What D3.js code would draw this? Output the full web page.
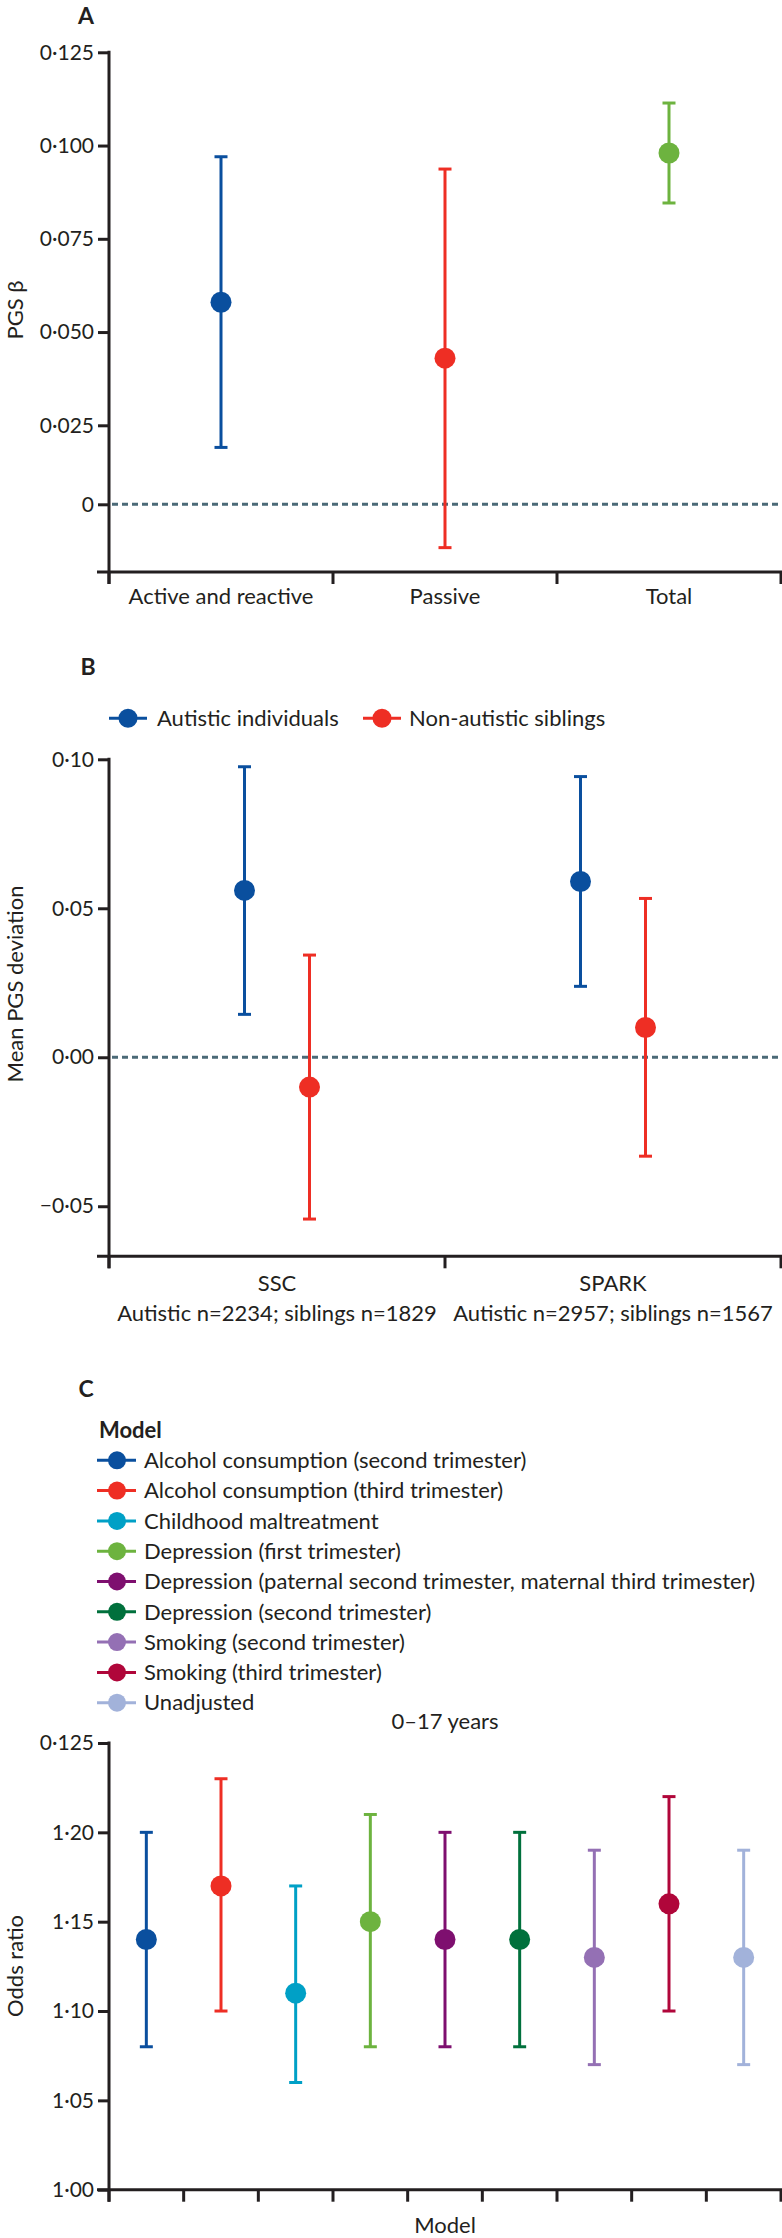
<!DOCTYPE html>
<html>
<head>
<meta charset="utf-8">
<script src="https://cdn.jsdelivr.net/npm/d3@7"></script>
<style>
  body { margin: 0; background: #fff; }
  svg { display: block; background: #fff; }
  text { font-family: Lato, "Noto Sans", sans-serif; fill: #231f20; }
</style>
</head>
<body>
<svg id="chart" width="782" height="2238"></svg>
<script>
// ---------------- DATA ----------------
// Panel A
const panelACategories = ["Active and reactive", "Passive", "Total"];
const panelAEstimate = [0.058, 0.043, 0.098];
const panelALower = [0.018, -0.0137, 0.0846];
const panelAUpper = [0.097, 0.0937, 0.1114];
const panelATicks = [0, 0.025, 0.05, 0.075, 0.1, 0.125];
const panelATickLabels = ["0", "0·025", "0·050", "0·075", "0·100", "0·125"];

// Panel B
const panelBCohorts = ["SSC", "SPARK"];
const panelBSampleSizes = ["Autistic n=2234; siblings n=1829", "Autistic n=2957; siblings n=1567"];
const panelBGroups = ["Autistic individuals", "Non-autistic siblings"];
const autisticMean = [0.056, 0.059];
const autisticLower = [0.0144, 0.0238];
const autisticUpper = [0.0975, 0.0942];
const siblingMean = [-0.010, 0.010];
const siblingLower = [-0.0543, -0.0332];
const siblingUpper = [0.0343, 0.0533];
const panelBTicks = [-0.05, 0, 0.05, 0.10];
const panelBTickLabels = ["−0·05", "0·00", "0·05", "0·10"];

// Panel C
const panelCModels = [
  "Alcohol consumption (second trimester)",
  "Alcohol consumption (third trimester)",
  "Childhood maltreatment",
  "Depression (first trimester)",
  "Depression (paternal second trimester, maternal third trimester)",
  "Depression (second trimester)",
  "Smoking (second trimester)",
  "Smoking (third trimester)",
  "Unadjusted"
];
const panelCOddsRatio = [1.14, 1.17, 1.11, 1.15, 1.14, 1.14, 1.13, 1.16, 1.13];
const panelCLower = [1.08, 1.10, 1.06, 1.08, 1.08, 1.08, 1.07, 1.10, 1.07];
const panelCUpper = [1.20, 1.23, 1.17, 1.21, 1.20, 1.20, 1.19, 1.22, 1.19];
const panelCTicks = [1.00, 1.05, 1.10, 1.15, 1.20, 1.25];
const panelCTickLabels = ["1·00", "1·05", "1·10", "1·15", "1·20", "0·125"];

// ---------------- STYLE ----------------
const AX = "#231f20";
const ZERO = "#4b6a77";
const colA = ["#0a4f9e", "#ee2e24", "#6db33f"];
const colB = ["#0a4f9e", "#ee2e24"];
const colC = ["#0a4f9e", "#ee2e24", "#00a0c6", "#6db33f", "#7e0f6f", "#00703c", "#9470b4", "#b0063a", "#a2b2da"];

const X0 = 109, X1 = 781;
const svg = d3.select("#chart");

function yAxis(y, ticks, labels, yBottom) {
  const g = svg.append("g").attr("transform", `translate(${X0},0)`)
    .call(d3.axisLeft(y).tickValues(ticks).tickFormat((d, i) => labels[i])
      .tickSize(11).tickSizeOuter(0).tickPadding(4));
  g.select(".domain").remove();
  g.selectAll(".tick line").attr("stroke", AX).attr("stroke-width", 3);
  g.selectAll(".tick text").attr("font-size", 21);
  const yTop = y(d3.max(ticks));
  svg.append("line").attr("x1", X0).attr("x2", X0)
    .attr("y1", yTop - 1.5).attr("y2", yBottom + 12)
    .attr("stroke", AX).attr("stroke-width", 3);
}

function xAxis(x, yBottom) {
  svg.append("line").attr("x1", X0 - 12).attr("x2", X1 + 1.5)
    .attr("y1", yBottom).attr("y2", yBottom)
    .attr("stroke", AX).attr("stroke-width", 3);
  const bounds = x.domain().map(d => x(d)).concat([x.range()[1]]);
  svg.append("g").selectAll("line").data(bounds).join("line")
    .attr("x1", d => Math.min(d, X1)).attr("x2", d => Math.min(d, X1))
    .attr("y1", yBottom).attr("y2", yBottom + 12)
    .attr("stroke", AX).attr("stroke-width", 3);
}

function zeroLine(y) {
  svg.append("line").attr("x1", X0 + 3).attr("x2", X1)
    .attr("y1", y(0)).attr("y2", y(0))
    .attr("stroke", ZERO).attr("stroke-width", 3)
    .attr("stroke-dasharray", "6,4");
}

function errorBar(g, cx, yLo, yHi, yEst, color) {
  g.append("line").attr("x1", cx).attr("x2", cx).attr("y1", yLo).attr("y2", yHi)
    .attr("stroke", color).attr("stroke-width", 3);
  [yLo, yHi].forEach(v => g.append("line").attr("x1", cx - 6.5).attr("x2", cx + 6.5)
    .attr("y1", v).attr("y2", v).attr("stroke", color).attr("stroke-width", 3));
  g.append("circle").attr("cx", cx).attr("cy", yEst).attr("r", 10.5).attr("fill", color);
}

function panelLabel(txt, x, y) {
  svg.append("text").attr("x", x).attr("y", y).attr("text-anchor", "middle")
    .attr("font-size", 23).attr("font-weight", "bold").text(txt);
}

function yTitle(txt, cy) {
  svg.append("text").attr("transform", `translate(14,${cy}) rotate(-90)`)
    .attr("text-anchor", "middle").attr("dominant-baseline", "central")
    .attr("font-size", 22).text(txt);
}

// ---------------- PANEL A ----------------
panelLabel("A", 86, 24);
const yA = d3.scaleLinear().domain([-0.0214, 0, 0.025, 0.125]).range([572, 504.3, 425.3, 52.3]);
const xA = d3.scaleBand().domain(panelACategories).range([X0, X1]);
zeroLine(yA);
yAxis(yA, panelATicks, panelATickLabels, 572);
xAxis(xA, 572);
yTitle("PGS β", 310);
const gA = svg.append("g");
panelACategories.forEach((c, i) => {
  errorBar(gA, xA(c) + xA.bandwidth() / 2, yA(panelALower[i]), yA(panelAUpper[i]), yA(panelAEstimate[i]), colA[i]);
});
svg.append("g").selectAll("text").data(panelACategories).join("text")
  .attr("x", d => xA(d) + xA.bandwidth() / 2).attr("y", 604)
  .attr("text-anchor", "middle").attr("font-size", 22).text(d => d);

// ---------------- PANEL B ----------------
panelLabel("B", 88, 675);
const legB = [{x: 109, t: 157}, {x: 363, t: 409}];
panelBGroups.forEach((gname, i) => {
  const lx = legB[i].x, ly = 718.3;
  svg.append("line").attr("x1", lx).attr("x2", lx + 38).attr("y1", ly).attr("y2", ly)
    .attr("stroke", colB[i]).attr("stroke-width", 3);
  svg.append("circle").attr("cx", lx + 19).attr("cy", ly).attr("r", 9.5).attr("fill", colB[i]);
  svg.append("text").attr("x", legB[i].t).attr("y", ly).attr("dy", "0.35em")
    .attr("font-size", 22).text(gname);
});
const yB = d3.scaleLinear().domain([-0.0668, 0.10]).range([1256.3, 759.3]);
const xB = d3.scaleBand().domain(panelBCohorts).range([X0, X1]);
const offB = d3.scalePoint().domain(panelBGroups).range([-32.5, 32.5]);
zeroLine(yB);
yAxis(yB, panelBTicks, panelBTickLabels, 1256.3);
xAxis(xB, 1256.3);
yTitle("Mean PGS deviation", 984);
const gB = svg.append("g");
panelBCohorts.forEach((c, i) => {
  const cx = xB(c) + xB.bandwidth() / 2;
  errorBar(gB, cx + offB(panelBGroups[0]), yB(autisticLower[i]), yB(autisticUpper[i]), yB(autisticMean[i]), colB[0]);
  errorBar(gB, cx + offB(panelBGroups[1]), yB(siblingLower[i]), yB(siblingUpper[i]), yB(siblingMean[i]), colB[1]);
});
panelBCohorts.forEach((c, i) => {
  const cx = xB(c) + xB.bandwidth() / 2;
  svg.append("text").attr("x", cx).attr("y", 1291).attr("text-anchor", "middle").attr("font-size", 22).text(c);
  svg.append("text").attr("x", cx).attr("y", 1321).attr("text-anchor", "middle").attr("font-size", 22).text(panelBSampleSizes[i]);
});

// ---------------- PANEL C ----------------
panelLabel("C", 86, 1397);
svg.append("text").attr("x", 99).attr("y", 1438).attr("font-size", 22).attr("font-weight", "bold").text("Model");
panelCModels.forEach((m, i) => {
  const ly = 1460.3 + i * 30.3;
  svg.append("line").attr("x1", 97).attr("x2", 136).attr("y1", ly).attr("y2", ly)
    .attr("stroke", colC[i]).attr("stroke-width", 3);
  svg.append("circle").attr("cx", 117).attr("cy", ly).attr("r", 9).attr("fill", colC[i]);
  svg.append("text").attr("x", 144).attr("y", ly).attr("dy", "0.35em").attr("font-size", 22).text(m);
});
svg.append("text").attr("x", 445).attr("y", 1729).attr("text-anchor", "middle").attr("font-size", 22).text("0–17 years");
const yC = d3.scaleLinear().domain([1.00, 1.25]).range([2189.7, 1743]);
const xC = d3.scaleBand().domain(panelCModels).range([X0, X1]);
yAxis(yC, panelCTicks, panelCTickLabels, 2189.7);
xAxis(xC, 2189.7);
yTitle("Odds ratio", 1966);
const gC = svg.append("g");
panelCModels.forEach((m, i) => {
  errorBar(gC, xC(m) + xC.bandwidth() / 2, yC(panelCLower[i]), yC(panelCUpper[i]), yC(panelCOddsRatio[i]), colC[i]);
});
svg.append("text").attr("x", 445).attr("y", 2233).attr("text-anchor", "middle").attr("font-size", 22).text("Model");
</script>
</body>
</html>
